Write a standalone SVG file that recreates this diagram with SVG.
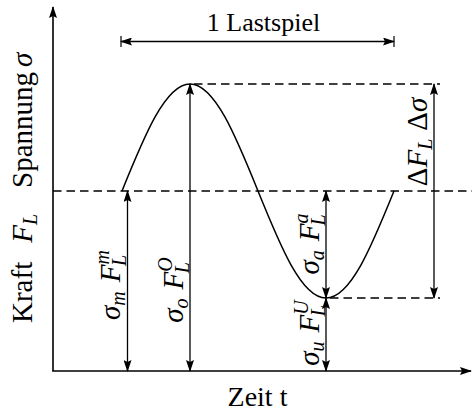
<svg xmlns="http://www.w3.org/2000/svg" width="472" height="411" viewBox="0 0 472 411">
<defs>
<style>
.ax{stroke:#000;stroke-width:1.6;fill:none}
.cv{stroke:#000;stroke-width:1.5;fill:none}
.da{stroke:#000;stroke-width:1.3;fill:none;stroke-dasharray:8.5 5}
.ar{stroke:#000;stroke-width:1.3;fill:none;marker-start:url(#ah);marker-end:url(#ah)}
.ae{stroke:#000;stroke-width:1.6;fill:none;marker-end:url(#ah)}
.tk{stroke:#000;stroke-width:1.2}
text{font-family:"Liberation Serif","DejaVu Serif",serif;font-size:28px;fill:#000}
.ml{font-size:29px}
.i{font-style:italic}
.s{font-size:20px;font-style:italic}
</style>
<marker id="ah" viewBox="0 0 12 8" refX="11" refY="4" markerWidth="12" markerHeight="8" markerUnits="userSpaceOnUse" orient="auto-start-reverse">
<path d="M0,0 L12,4 L0,8 L2,4 Z" fill="#000"/>
</marker>
</defs>
<g id="axes">
<line class="ae" x1="53" y1="371" x2="53" y2="7"/>
<line class="ae" x1="52.2" y1="371" x2="471" y2="371"/>
</g>
<g id="guides">
<line class="da" x1="53" y1="191" x2="472" y2="191"/>
<line class="da" x1="194" y1="84" x2="440" y2="84"/>
<line class="da" x1="330" y1="298" x2="440" y2="298"/>
</g>
<g id="curve">
<path class="cv" d="M122,191 C144.18,136.19 165.39,84 190,84 C214.61,84 235.82,136.19 258,191 C280.18,245.81 301.39,298 326,298 C350.61,298 371.82,245.81 394,191"/>
</g>
<g id="connectors">
<line class="ar" x1="127.5" y1="191" x2="127.5" y2="371"/>
<line class="ar" x1="190" y1="84" x2="190" y2="371"/>
<line class="ar" x1="326" y1="191" x2="326" y2="298"/>
<line class="ar" x1="326" y1="298" x2="326" y2="371"/>
<line class="ar" x1="434" y1="84" x2="434" y2="298"/>
<line class="ar" x1="121" y1="41.5" x2="394" y2="41.5"/>
<line class="tk" x1="121" y1="36" x2="121" y2="47"/>
<line class="tk" x1="394" y1="36" x2="394" y2="47"/>
</g>
<g id="labels">
<text x="263.5" y="31" text-anchor="middle" style="font-size:26px">1 Lastspiel</text>
<text x="257.5" y="406" text-anchor="middle">Zeit t</text>
<text class="ml" transform="translate(32,323) rotate(-90)">Kraft<tspan class="i" dx="19">F</tspan><tspan class="s" dy="5">L</tspan><tspan dx="26" dy="-5">Spannung</tspan><tspan class="i" dx="5">σ</tspan></text>
<text id="l-m" class="ml" transform="translate(120,285) rotate(-90)" text-anchor="middle"><tspan class="i">σ</tspan><tspan class="s" dy="5">m</tspan><tspan class="i" dx="9" dy="-5">F</tspan><tspan class="s" dy="-11">m</tspan><tspan class="s" dx="-16" dy="17">L</tspan></text>
<text id="l-o" class="ml" transform="translate(183,290) rotate(-90)" text-anchor="middle"><tspan class="i">σ</tspan><tspan class="s" dy="5">o</tspan><tspan class="i" dx="9" dy="-5">F</tspan><tspan class="s" dy="-11">O</tspan><tspan class="s" dx="-16" dy="17">L</tspan></text>
<text id="l-a" class="ml" transform="translate(319,244) rotate(-90)" text-anchor="middle"><tspan class="i">σ</tspan><tspan class="s" dy="5">a</tspan><tspan class="i" dx="9" dy="-5">F</tspan><tspan class="s" dy="-11">a</tspan><tspan class="s" dx="-12" dy="17">L</tspan></text>
<text id="l-u" class="ml" transform="translate(319,333) rotate(-90)" text-anchor="middle"><tspan class="i">σ</tspan><tspan class="s" dy="5">u</tspan><tspan class="i" dx="9" dy="-5">F</tspan><tspan class="s" dy="-11">U</tspan><tspan class="s" dx="-16" dy="17">L</tspan></text>
<text id="l-d" class="ml" transform="translate(427,142) rotate(-90)" text-anchor="middle">Δ<tspan class="i">F</tspan><tspan class="s" dy="5">L</tspan><tspan dx="8" dy="-5">Δ</tspan><tspan class="i">σ</tspan></text>
</g>
</svg>
